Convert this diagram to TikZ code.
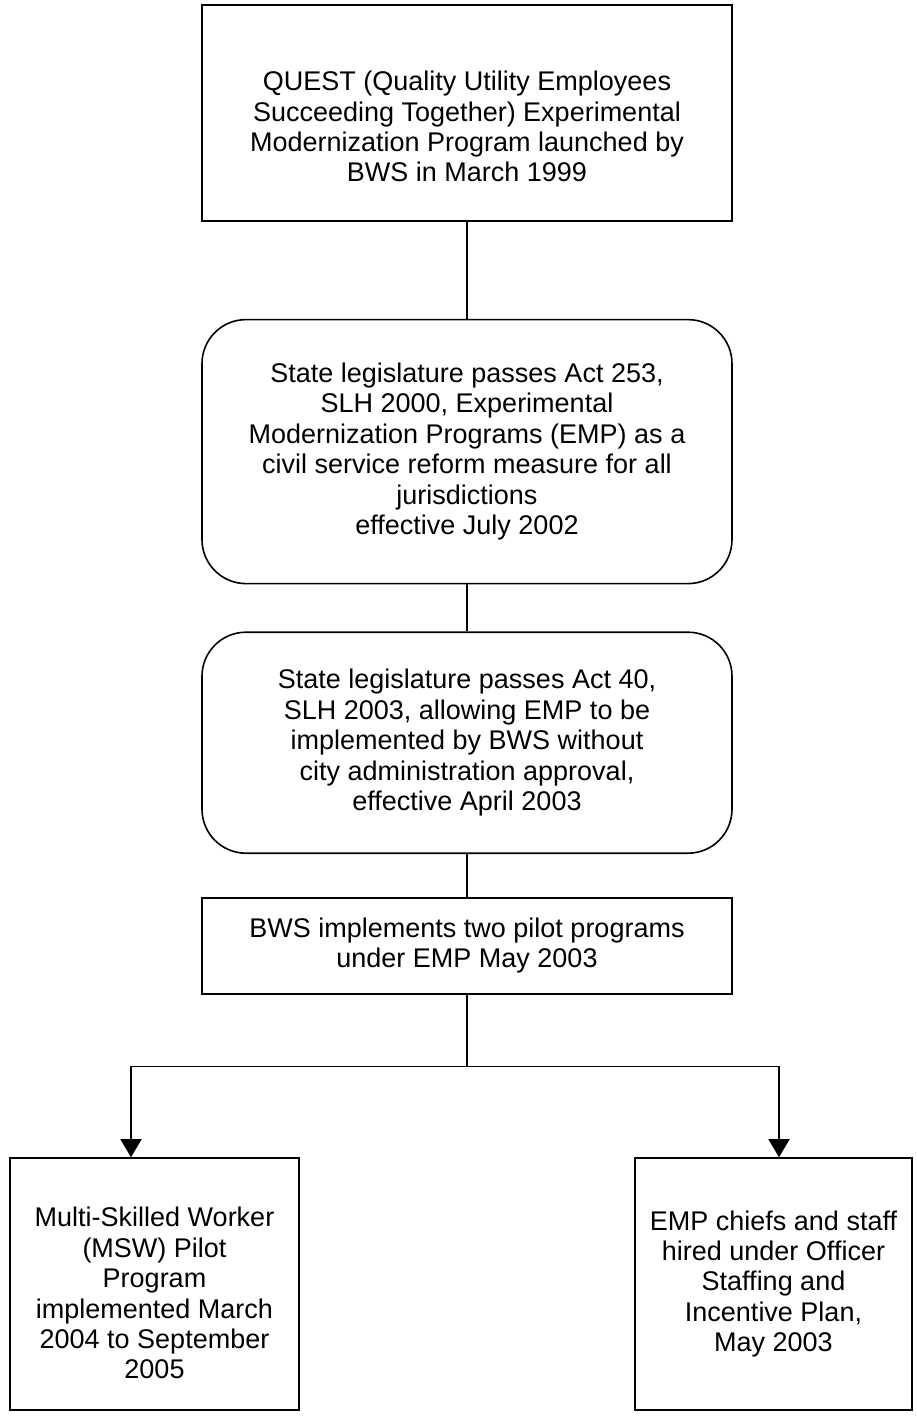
\documentclass[tikz,border=0pt]{standalone}
\usepackage{fontspec}
\setmainfont{Liberation Sans}
\usetikzlibrary{positioning, arrows.meta}

\newcommand{\stagefont}{\fontsize{27pt}{30.4pt}\selectfont}

\begin{document}
\begin{tikzpicture}[
  x=1pt, y=1pt,
  node distance=47pt and 0pt,
  stage/.style={
    rectangle,
    draw=black,
    line width=1.6pt,
    align=center,
    minimum width=530pt,
    inner sep=4pt,
    font=\stagefont
  },
  roundstage/.style={stage, rounded corners=44pt},
  link/.style={
    draw=black,
    line width=1.6pt
  },
  arrow/.style={
    link,
    -{Triangle[length=18pt, width=21pt]}
  }
]
  \useasboundingbox (0,0) rectangle (916,-1416);

  % Define nodes
  \node[stage, minimum height=216pt] (quest) at (467,-113) {\rule{0pt}{47pt}QUEST (Quality Utility Employees\\
    Succeeding Together) Experimental\\
    Modernization Program launched by\\
    BWS in March 1999};
  \node[roundstage, minimum height=264pt, below=97pt of quest] (act253) {State legislature passes Act 253,\\
    SLH 2000, Experimental\\
    Modernization Programs (EMP) as a\\
    civil service reform measure for all\\
    jurisdictions\\
    effective July 2002};
  \node[roundstage, minimum height=221pt, below=of act253] (act40) {State legislature passes Act 40,\\
    SLH 2003, allowing EMP to be\\
    implemented by BWS without\\
    city administration approval,\\
    effective April 2003};
  \node[stage, minimum height=96pt, below=43pt of act40] (pilots) {BWS implements two pilot programs\\
    under EMP May 2003};
  \coordinate[below=72pt of pilots] (fork);

  \node[stage, minimum width=289pt, minimum height=252pt] (msw) at (154.5,-1284) {\rule{0pt}{38pt}Multi-Skilled Worker\\
    (MSW) Pilot\\
    Program\\
    implemented March\\
    2004 to September\\
    2005};
  \node[stage, minimum width=277pt, minimum height=252pt] (osip) at (773.5,-1284) {EMP chiefs and staff\\
    hired under Officer\\
    Staffing and\\
    Incentive Plan,\\
    May 2003};

  % Connect nodes
  \draw[link] (quest.south) -- (act253.north);
  \draw[link] (act253.south) -- (act40.north);
  \draw[link] (act40.south) -- (pilots.north);
  \draw[link] (pilots.south) -- (fork);
  \draw[arrow] (fork) -| ([xshift=-23.5pt]msw.north);
  \draw[arrow] (fork) -| ([xshift=5.5pt]osip.north);
\end{tikzpicture}
\end{document}
